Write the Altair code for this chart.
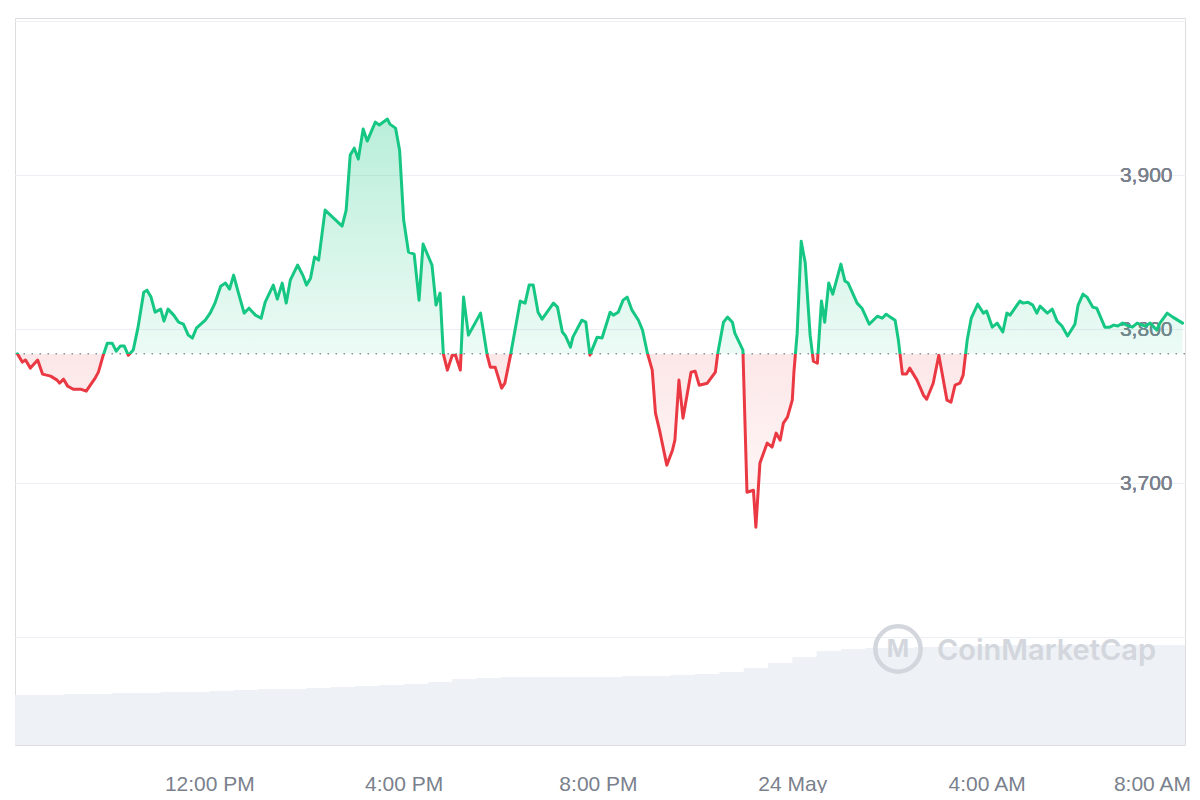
import altair as alt
import pandas as pd

# ---- price series (minutes after 08:00 AM, 23 May) ----
minutes = [3, 9, 13, 19, 28, 34, 44, 52, 55, 60, 65, 72, 81, 88, 93, 99, 103, 109, 114, 120,
           125, 130, 135, 140, 146, 152, 159, 163, 168, 173, 180, 184, 189, 196, 202, 208, 214, 219, 224, 235,
           241, 247, 254, 260, 265, 270, 276, 283, 289, 297, 304, 309, 319, 324, 330, 335, 340, 349, 356, 360,
           365, 370, 375, 383, 404, 409, 414, 419, 424, 430, 435, 445, 450, 460, 463, 470, 475, 480, 486, 493,
           499, 504, 515, 520, 525, 529, 534, 540, 544, 550, 554, 560, 575, 583, 587, 593, 601, 605, 612, 624,
           630, 635, 640, 646, 651, 665, 670, 676, 680, 686, 689, 700, 705, 710, 719, 725, 735, 739, 745, 751,
           756, 762, 770, 775, 781, 787, 791, 796, 805, 812, 815, 820, 825, 835, 840, 845, 855, 865, 868, 875,
           880, 886, 889, 899, 904, 912, 915, 920, 929, 935, 940, 945, 949, 954, 960, 962, 966, 971, 976, 982,
           986, 991, 996, 1000, 1005, 1010, 1020, 1025, 1029, 1040, 1046, 1055, 1065, 1071, 1076, 1081, 1087, 1091, 1096, 1101,
           1105, 1114, 1122, 1126, 1134, 1141, 1151, 1156, 1161, 1167, 1171, 1176, 1181, 1189, 1196, 1200, 1207, 1213, 1220, 1225,
           1229, 1241, 1245, 1251, 1257, 1262, 1266, 1275, 1281, 1287, 1293, 1300, 1309, 1313, 1319, 1324, 1331, 1336, 1346, 1352,
           1357, 1362, 1368, 1373, 1380, 1386, 1396, 1402, 1410, 1414, 1423, 1430, 1442]

prices = [3784.0, 3778.6, 3779.9, 3774.7, 3779.9, 3770.8, 3769.5, 3766.9, 3764.9, 3767.5,
          3763.0, 3761.0, 3761.0, 3759.7, 3763.6, 3768.2, 3772.1, 3783.1, 3790.9, 3790.9,
          3785.7, 3789.0, 3789.0, 3783.0, 3786.4, 3801.3, 3824.0, 3825.3, 3820.8, 3811.0,
          3813.0, 3805.2, 3813.0, 3809.1, 3804.5, 3803.2, 3796.1, 3794.2, 3800.6, 3805.8,
          3810.4, 3816.9, 3827.9, 3829.9, 3826.0, 3835.1, 3823.4, 3810.4, 3813.6, 3809.1,
          3807.1, 3817.5, 3828.6, 3819.5, 3829.9, 3816.9, 3831.8, 3841.6, 3834.4, 3828.6,
          3833.1, 3846.8, 3844.8, 3877.3, 3866.9, 3877.3, 3913.0, 3917.5, 3910.4, 3929.9,
          3922.1, 3934.4, 3932.5, 3936.4, 3933.1, 3930.5, 3916.2, 3870.8, 3850.0, 3848.7,
          3818.8, 3855.2, 3841.6, 3815.6, 3823.4, 3784.0, 3773.4, 3783.1, 3783.1, 3773.4,
          3820.8, 3796.1, 3810.4, 3783.5, 3775.3, 3775.3, 3761.7, 3764.9, 3783.1, 3818.2,
          3816.9, 3828.6, 3828.6, 3811.0, 3806.5, 3816.9, 3814.3, 3798.1, 3795.5, 3788.3,
          3794.8, 3805.8, 3804.5, 3783.1, 3794.8, 3794.2, 3811.0, 3809.1, 3811.0, 3818.8,
          3820.8, 3812.3, 3805.8, 3799.4, 3784.5, 3773.4, 3745.5, 3734.4, 3711.7, 3721.4,
          3727.9, 3766.9, 3742.2, 3772.1, 3772.7, 3763.6, 3764.9, 3772.1, 3784.5, 3804.5,
          3807.8, 3804.5, 3797.4, 3786.4, 3694.1, 3695.4, 3671.4, 3713.0, 3726.0, 3723.4,
          3732.5, 3727.9, 3739.0, 3742.9, 3753.9, 3772.1, 3797.4, 3857.1, 3842.9, 3796.1,
          3779.2, 3777.9, 3818.2, 3804.5, 3829.9, 3822.7, 3842.2, 3831.2, 3829.9, 3816.9,
          3813.6, 3803.2, 3808.4, 3807.1, 3809.7, 3807.8, 3805.8, 3792.9, 3770.8, 3770.8,
          3774.7, 3766.9, 3757.1, 3754.5, 3764.9, 3783.1, 3753.9, 3752.6, 3763.6, 3764.9,
          3770.1, 3792.9, 3807.1, 3816.2, 3810.4, 3811.7, 3801.3, 3803.9, 3798.1, 3810.4,
          3809.1, 3818.2, 3816.9, 3817.5, 3815.6, 3810.4, 3814.9, 3810.4, 3813.0, 3805.2,
          3802.0, 3795.5, 3803.2, 3815.6, 3822.7, 3820.8, 3814.3, 3813.6, 3801.3, 3801.3,
          3802.6, 3802.0, 3803.9, 3802.6, 3801.3, 3803.9, 3802.0, 3803.9, 3799.4, 3803.9,
          3810.4, 3807.8, 3803.9]

# ---- 24h volume (billions USD), minutes after 08:00 AM ----
vol_minutes = [0, 30, 60, 90, 120, 150, 180, 210, 240, 270, 300, 330, 360, 390, 420, 450, 480,
               510, 540, 570, 600, 630, 660, 690, 720, 750, 780, 810, 840, 870, 900, 930, 960,
               990, 1020, 1050, 1080, 1110, 1140, 1170, 1200, 1230, 1260, 1290, 1320, 1350, 1380,
               1410, 1445]
volumes = [27.5, 27.5, 28.0, 28.0, 28.6, 28.6, 29.2, 29.2, 29.7, 30.3, 30.8, 30.8, 31.4, 31.9,
           32.5, 33.0, 33.6, 34.7, 36.3, 36.9, 37.4, 37.4, 37.4, 37.4, 37.4, 38.0, 38.0, 38.5,
           39.1, 40.2, 42.4, 45.1, 48.4, 51.7, 52.8, 53.4, 53.4, 53.9, 53.9, 54.5, 54.5, 55.0,
           55.0, 55.0, 55.0, 55.0, 55.0, 55.0, 55.0]

x_tick_values = [240, 480, 720, 960, 1200, 1440]
x_tick_labels = ["12:00 PM", "4:00 PM", "8:00 PM", "24 May", "4:00 AM", "8:00 AM"]
y_tick_values = [3600, 3700, 3800, 3900, 4000]
y_tick_labels = ["", "3,700", "3,800", "3,900", ""]

assert len(minutes) == len(prices), (len(minutes), len(prices))
assert len(vol_minutes) == len(volumes)

GREEN = "#16c784"
RED = "#ea3943"
GREY_TXT = "#7a818d"
GRID = "#eceff3"
FONT = "Liberation Sans"
WM = "#d3d7dd"

base = prices[0]
pmax, pmin = max(prices), min(prices)
frac = (pmax - base) / (pmax - pmin)

price_df = pd.DataFrame({"t": minutes, "price": prices})
price_df["base"] = base
vol_df = pd.DataFrame({"t": vol_minutes, "volume": volumes})
base_df = pd.DataFrame({"base": [base]})


def label_expr(values, labels):
    parts = [f"datum.value == {v} ? '{l}'" for v, l in zip(values, labels)]
    return " : ".join(parts) + " : ''"


W, H = 1170, 727
xscale = alt.Scale(domain=[0, 1445], nice=False, zero=False)
yscale = alt.Scale(domain=[3530, 4002], nice=False, zero=False)

x_axis = alt.Axis(values=x_tick_values, labelExpr=label_expr(x_tick_values, x_tick_labels),
                  title=None, grid=False, domain=False, ticks=False, tickSize=0,
                  labelFont=FONT, labelFontSize=21, labelColor=GREY_TXT,
                  labelPadding=45, labelBaseline="alphabetic", labelOverlap=False,
                  labelOffset={"condition": {"test": "datum.value >= 1440", "value": -29}, "value": 0})
y_axis = alt.Axis(values=y_tick_values, labelExpr=label_expr(y_tick_values, y_tick_labels),
                  orient="right", title=None, grid=True, gridColor=GRID, gridWidth=1,
                  domain=False, ticks=False, tickSize=0,
                  labelFont=FONT, labelFontSize=21, labelColor=GREY_TXT,
                  labelAlign="right", labelBaseline="middle", labelPadding=-13)

x_enc = alt.X("t:Q", scale=xscale, axis=x_axis)
y_enc = alt.Y("price:Q", scale=yscale, axis=y_axis)

volume = alt.Chart(vol_df).mark_area(color="#eef1f5", interpolate="step-after").encode(
    x=x_enc,
    y=alt.Y("volume:Q", scale=alt.Scale(domain=[0, 400], nice=False, zero=True), axis=None),
)

wm_logo = alt.Chart(pd.DataFrame({"k": [0]})).mark_point(
    shape="circle", size=2050, filled=False, strokeWidth=4.5, color=WM, opacity=1
).encode(x=alt.value(883), y=alt.value(631))
wm_m = alt.Chart(pd.DataFrame({"k": ["M"]})).mark_text(
    font="Inter", fontSize=24, fontWeight=700, color=WM, align="center", baseline="middle"
).encode(text="k:N", x=alt.value(883), y=alt.value(632))
wm_text = alt.Chart(pd.DataFrame({"k": ["CoinMarketCap"]})).mark_text(
    font="Inter", fontSize=29, fontWeight=600, color=WM, align="left", baseline="alphabetic"
).encode(text="k:N", x=alt.value(922), y=alt.value(642))

fill_grad = alt.LinearGradient(
    gradient="linear", x1=0, x2=0, y1=0, y2=1,
    stops=[
        alt.GradientStop(color="rgba(22,199,132,0.30)", offset=0),
        alt.GradientStop(color="rgba(22,199,132,0.08)", offset=frac),
        alt.GradientStop(color="rgba(234,57,67,0.12)", offset=frac),
        alt.GradientStop(color="rgba(234,57,67,0.03)", offset=1),
    ],
)
line_grad = alt.LinearGradient(
    gradient="linear", x1=0, x2=0, y1=0, y2=1,
    stops=[
        alt.GradientStop(color=GREEN, offset=0),
        alt.GradientStop(color=GREEN, offset=frac),
        alt.GradientStop(color=RED, offset=frac),
        alt.GradientStop(color=RED, offset=1),
    ],
)

area = alt.Chart(price_df).mark_area(color=fill_grad, interpolate="linear").encode(
    x=x_enc, y=y_enc, y2=alt.Y2("base:Q")
)
baseline = alt.Chart(base_df).mark_rule(
    color="#8a919e", strokeWidth=1.5, strokeDash=[1.5, 6.5]
).encode(y=alt.Y("base:Q", scale=yscale, axis=y_axis))
line = alt.Chart(price_df).mark_line(
    stroke=line_grad, strokeWidth=3, strokeJoin="round", strokeCap="round", interpolate="linear"
).encode(x=x_enc, y=y_enc)

chart = alt.layer(volume, wm_logo, wm_m, wm_text, area, baseline, line).resolve_scale(
    y="independent"
).properties(
    width=W, height=H,
    autosize=alt.AutoSizeParams(type="none"),
    padding={"left": 7, "top": 10, "right": 7, "bottom": 48},
).configure_view(stroke="#eef0f3", strokeWidth=1).configure(background="white")

chart.save("out.html", embed_options={"renderer": "svg", "actions": False})
